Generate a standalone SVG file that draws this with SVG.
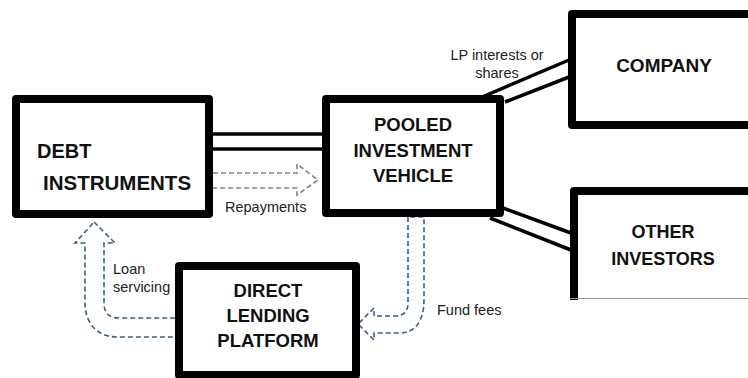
<svg xmlns="http://www.w3.org/2000/svg" width="748" height="378" viewBox="0 0 748 378">
<style>
.box{fill:#fff;stroke:#000;stroke-width:8;stroke-linejoin:round}
.t{font-family:"Liberation Sans",Arial,sans-serif;font-weight:bold;fill:#111;text-anchor:middle}
.lbl{font-family:"Liberation Sans",Arial,sans-serif;font-size:14.5px;fill:#222}
.dbl{stroke:#000;stroke-width:3.5;fill:none}
.gray{fill:none;stroke:#7f7f7f;stroke-width:1.6;stroke-dasharray:5 3}
.blue{fill:none;stroke:#3f5d84;stroke-width:1.6;stroke-dasharray:5 3}
</style>
<rect width="748" height="378" fill="#fff"/>
<g id="connectors">
  <line class="dbl" x1="213" y1="134" x2="322" y2="134"/>
  <line class="dbl" x1="213" y1="149" x2="322" y2="149"/>
  <line class="dbl" x1="482" y1="97" x2="569" y2="60"/>
  <line class="dbl" x1="505" y1="102" x2="569" y2="77"/>
  <line class="dbl" x1="503" y1="208" x2="571" y2="233"/>
  <line class="dbl" x1="490" y1="218" x2="571" y2="250"/>
  <path class="gray" d="M213,173 H297 V164 L318,180 L297,195 V188 H213"/>
  <path class="blue" d="M94,222 L115,243 H104 V303 Q104,318 119,318 H178 V337 H117 C98,337 85,324 85,303 V243 H75 Z"/>
  <path class="blue" d="M408,217 V303 Q408,316 395,316 H374 V308 L358,324 L374,340 V333 H400 C415,333 424,321 424,300 V217 Z"/>
  <text class="lbl" x="225" y="212">Repayments</text>
  <text class="lbl" x="497" y="60" text-anchor="middle">LP interests or</text>
  <text class="lbl" x="497" y="78" text-anchor="middle">shares</text>
  <text class="lbl" x="113" y="274">Loan</text>
  <text class="lbl" x="113" y="292">servicing</text>
  <text class="lbl" x="437" y="315">Fund fees</text>
</g>
<g id="debt-instruments">
  <rect class="box" x="16" y="99" width="193" height="115"/>
  <text class="t" style="text-anchor:start" font-size="20" x="37" y="158">DEBT</text>
  <text class="t" style="text-anchor:start" font-size="20.5" x="43" y="190">INSTRUMENTS</text>
</g>
<g id="pooled-investment-vehicle">
  <rect class="box" x="326" y="99" width="174" height="114"/>
  <text class="t" font-size="18.5" x="413" y="131">POOLED</text>
  <text class="t" font-size="18.5" x="413" y="157">INVESTMENT</text>
  <text class="t" font-size="18.5" x="413" y="182">VEHICLE</text>
</g>
<g id="company">
  <rect class="box" x="572" y="14" width="190" height="111"/>
  <text class="t" font-size="19" x="664" y="72">COMPANY</text>
</g>
<g id="other-investors">
  <path class="box" d="M574,300 V191 H760"/>
  <line x1="570" y1="298.5" x2="748" y2="298.5" stroke="#999" stroke-width="1"/>
  <text class="t" font-size="18" x="663" y="238">OTHER</text>
  <text class="t" font-size="18" x="663" y="265">INVESTORS</text>
</g>
<g id="direct-lending-platform">
  <rect class="box" x="179" y="266" width="177" height="109"/>
  <text class="t" font-size="18.5" x="268" y="297">DIRECT</text>
  <text class="t" font-size="18.5" x="268" y="322">LENDING</text>
  <text class="t" font-size="18.5" x="268" y="347">PLATFORM</text>
</g>
</svg>
